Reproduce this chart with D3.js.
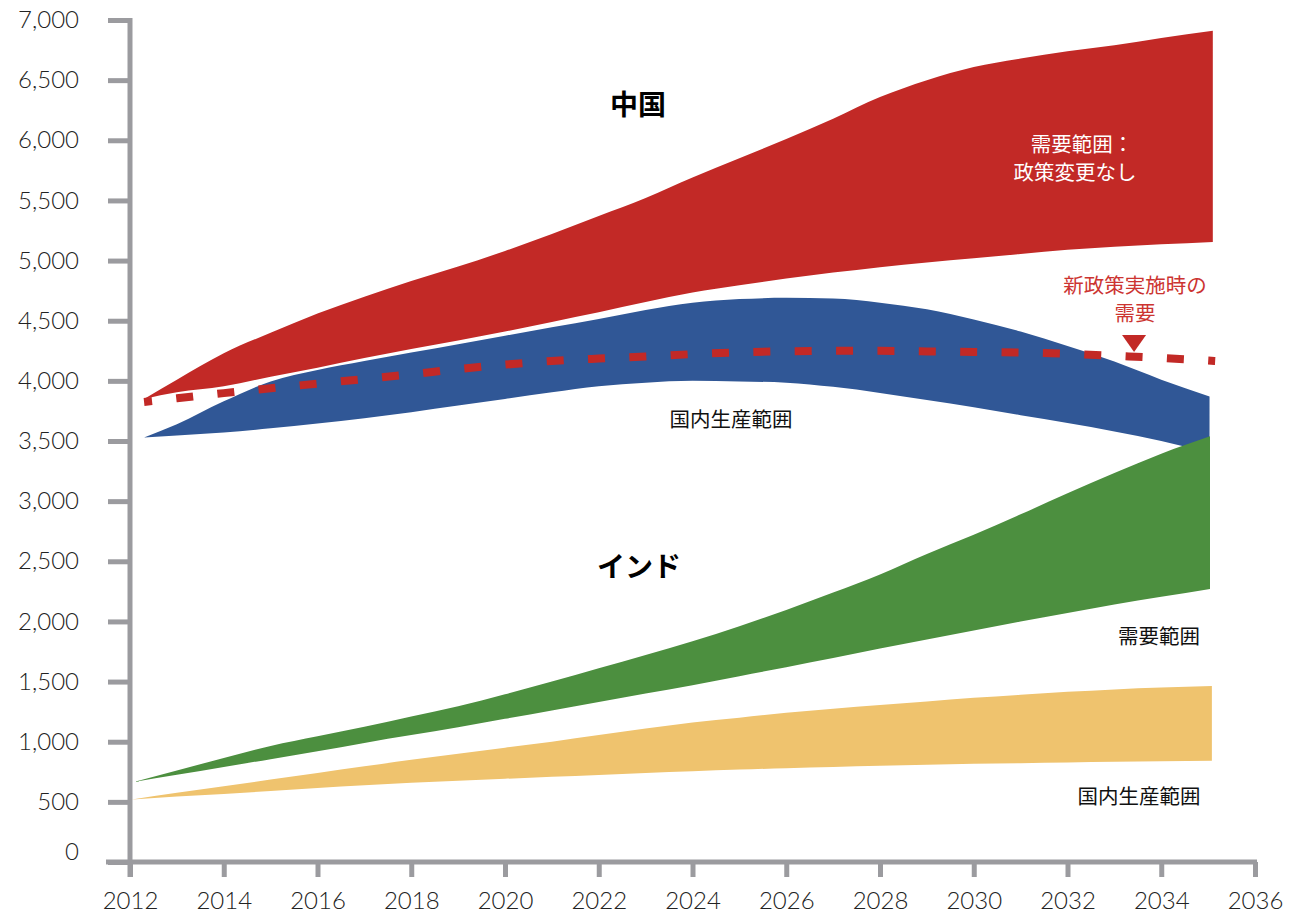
<!DOCTYPE html>
<html>
<head>
<meta charset="utf-8">
<script src="https://cdn.jsdelivr.net/npm/d3@7"></script>
<style>
  html, body { margin: 0; padding: 0; background: #ffffff; }
  svg { display: block; }
  .tick text { font-family: Lato, "Open Sans", sans-serif; font-weight: 300; font-size: 24px; fill: #222; }
  .jp { font-family: "Noto Sans CJK JP", "Noto Sans", sans-serif; }
</style>
</head>
<body>
<svg id="chart" width="1298" height="917"></svg>
<script>
// ---------- data (million tonnes) ----------
const chinaYears = [2012.3, 2013, 2014, 2015, 2016, 2017, 2018, 2019, 2020, 2021, 2022, 2023, 2024,
                    2025, 2026, 2027, 2028, 2029, 2030, 2031, 2032, 2033, 2034, 2035.1];
const chinaDemandHigh = [3850, 4010, 4230, 4400, 4560, 4700, 4830, 4950, 5080, 5220, 5370, 5520, 5690,
                         5850, 6010, 6180, 6360, 6500, 6610, 6680, 6740, 6790, 6850, 6910];
const chinaDemandLow  = [3850, 3905, 3955, 4035, 4110, 4190, 4265, 4335, 4410, 4490, 4570, 4655, 4735,
                         4795, 4850, 4900, 4945, 4985, 5020, 5055, 5090, 5115, 5135, 5155];

const chinaProdYears = [2012.3, 2013, 2014, 2015, 2016, 2017, 2018, 2019, 2020, 2021, 2022, 2023, 2024,
                        2025, 2026, 2027, 2028, 2029, 2030, 2031, 2032, 2033, 2034, 2035.03];
const chinaProdHigh = [3530, 3640, 3830, 3995, 4090, 4165, 4235, 4305, 4375, 4445, 4515, 4590, 4650,
                       4680, 4690, 4685, 4650, 4595, 4510, 4410, 4290, 4160, 4010, 3870];
const chinaProdLow  = [3530, 3545, 3570, 3605, 3645, 3690, 3740, 3795, 3850, 3905, 3955, 3985, 4000,
                       3995, 3985, 3950, 3900, 3840, 3780, 3715, 3650, 3580, 3500, 3400];

const chinaNewPolicyYears = [2012.3, 2013, 2014, 2015, 2016, 2017, 2018, 2019, 2020, 2021, 2022, 2023, 2024,
                             2025, 2026, 2027, 2028, 2029, 2030, 2031, 2032, 2033, 2034, 2035.15];
const chinaNewPolicy = [3825, 3855, 3898, 3938, 3977, 4015, 4055, 4098, 4135, 4165, 4185, 4202, 4222,
                        4237, 4246, 4250, 4250, 4245, 4240, 4235, 4225, 4208, 4190, 4165];

const indiaYears = [2012.08, 2013, 2014, 2015, 2016, 2017, 2018, 2019, 2020, 2021, 2022, 2023, 2024,
                    2025, 2026, 2027, 2028, 2029, 2030, 2031, 2032, 2033, 2034, 2035.04];
const indiaDemandHigh = [665, 760, 865, 965, 1045, 1125, 1210, 1295, 1395, 1500, 1610, 1720, 1835,
                         1960, 2095, 2240, 2390, 2560, 2720, 2890, 3065, 3235, 3395, 3540];
const indiaDemandLow  = [665, 725, 790, 855, 920, 990, 1055, 1120, 1190, 1260, 1330, 1400, 1470,
                         1545, 1620, 1695, 1775, 1850, 1925, 2000, 2070, 2140, 2205, 2270];

const indiaProdYears = [2012.04, 2013, 2014, 2015, 2016, 2017, 2018, 2019, 2020, 2021, 2022, 2023, 2024,
                        2025, 2026, 2027, 2028, 2029, 2030, 2031, 2032, 2033, 2034, 2035.08];
const indiaProdHigh = [520, 575, 630, 685, 740, 795, 850, 900, 950, 1000, 1055, 1110, 1160,
                       1200, 1240, 1275, 1305, 1335, 1365, 1390, 1415, 1435, 1450, 1463];
const indiaProdLow  = [520, 545, 565, 590, 615, 638, 658, 675, 692, 708, 723, 740, 755,
                       768, 780, 790, 800, 808, 816, 822, 828, 833, 837, 842];

const xTicks = [2012, 2014, 2016, 2018, 2020, 2022, 2024, 2026, 2028, 2030, 2032, 2034, 2036];
const yTicks = [0, 500, 1000, 1500, 2000, 2500, 3000, 3500, 4000, 4500, 5000, 5500, 6000, 6500, 7000];
const arrowYear = 2033.42;

// ---------- chart ----------
const svg = d3.select("#chart");
const x = d3.scaleLinear().domain([2012, 2036]).range([130, 1255]);
const y = d3.scaleLinear().domain([0, 7000]).range([862, 20]);

const AXIS = "#9b9b9f";
const RED = "#c22926", BLUE = "#305796", GREEN = "#4c8f3f", YELLOW = "#efc36e";

function band(years, lo, hi) {
  return d3.area().curve(d3.curveMonotoneX)
    .x((d, i) => x(years[i])).y0((d, i) => y(lo[i])).y1((d, i) => y(hi[i]))(years);
}

svg.append("path").attr("d", band(chinaYears, chinaDemandLow, chinaDemandHigh)).attr("fill", RED);
svg.append("path").attr("d", band(chinaProdYears, chinaProdLow, chinaProdHigh)).attr("fill", BLUE);

const dash = svg.append("path")
  .attr("d", d3.line().curve(d3.curveMonotoneX)
    .x((d, i) => x(chinaNewPolicyYears[i])).y((d, i) => y(chinaNewPolicy[i]))(chinaNewPolicyYears))
  .attr("fill", "none").attr("stroke", RED).attr("stroke-width", 8);

// short dash at the start and one dash centred under the arrow
(function () {
  const node = dash.node();
  const total = node.getTotalLength();
  const target = x(arrowYear);
  let lo = 0, hi = total;
  for (let k = 0; k < 40; k++) {
    const mid = (lo + hi) / 2;
    if (node.getPointAtLength(mid).x < target) lo = mid; else hi = mid;
  }
  const La = lo, dashLen = 17, startOff = 9;
  const n = Math.round((La + startOff - dashLen / 2) / 42);
  const p = (La + startOff - dashLen / 2) / n;
  dash.attr("stroke-dasharray", `${dashLen},${p - dashLen}`).attr("stroke-dashoffset", startOff);
})();

svg.append("path").attr("d", band(indiaYears, indiaDemandLow, indiaDemandHigh)).attr("fill", GREEN);
svg.append("path").attr("d", band(indiaProdYears, indiaProdLow, indiaProdHigh)).attr("fill", YELLOW);

// arrow pointing to the new-policy line
const ax = x(arrowYear), ay = y(4198);
svg.append("path")
  .attr("d", `M${ax - 12},${ay - 22} L${ax + 12},${ay - 22} L${ax},${ay - 5} Z`)
  .attr("fill", RED);

// axes
const yAxis = svg.append("g").attr("transform", "translate(130,0)")
  .call(d3.axisLeft(y).tickValues(yTicks).tickSize(22).tickPadding(29)
    .tickFormat(d3.format(",")));
yAxis.select(".domain").remove();
yAxis.selectAll(".tick line").attr("stroke", AXIS).attr("stroke-width", 5);
yAxis.selectAll(".tick").filter(d => d === 0).select("text").attr("y", -10);

const xAxis = svg.append("g").attr("transform", "translate(0,862)")
  .call(d3.axisBottom(x).tickValues(xTicks).tickSize(15).tickPadding(15).tickFormat(d3.format("d")));
xAxis.select(".domain").remove();
xAxis.selectAll(".tick line").attr("stroke", AXIS).attr("stroke-width", 5);

svg.append("line").attr("x1", 130).attr("x2", 130).attr("y1", 18).attr("y2", 877)
  .attr("stroke", AXIS).attr("stroke-width", 5);
svg.append("line").attr("x1", 106).attr("x2", 1257).attr("y1", 862).attr("y2", 862)
  .attr("stroke", AXIS).attr("stroke-width", 5);

// labels
function label(txt, cx, cy, size, fill, weight) {
  svg.append("text").attr("class", "jp").attr("x", cx).attr("y", cy)
    .attr("text-anchor", "middle").attr("dominant-baseline", "central")
    .attr("font-size", size).attr("font-weight", weight || 400).attr("fill", fill).text(txt);
}
label("中国", 638, 103, 28, "#000", 700);
label("インド", 639, 565, 28, "#000", 700);
label("需要範囲：", 1082, 143, 20.5, "#fff");
label("政策変更なし", 1075, 171, 20.5, "#fff");
label("新政策実施時の", 1135, 284, 20.5, "#cc3431");
label("需要", 1135, 312, 20.5, "#cc3431");
label("国内生産範囲", 731, 418, 20.5, "#111");
label("需要範囲", 1159, 635, 20.5, "#111");
label("国内生産範囲", 1139, 795, 20.5, "#111");
</script>
</body>
</html>
